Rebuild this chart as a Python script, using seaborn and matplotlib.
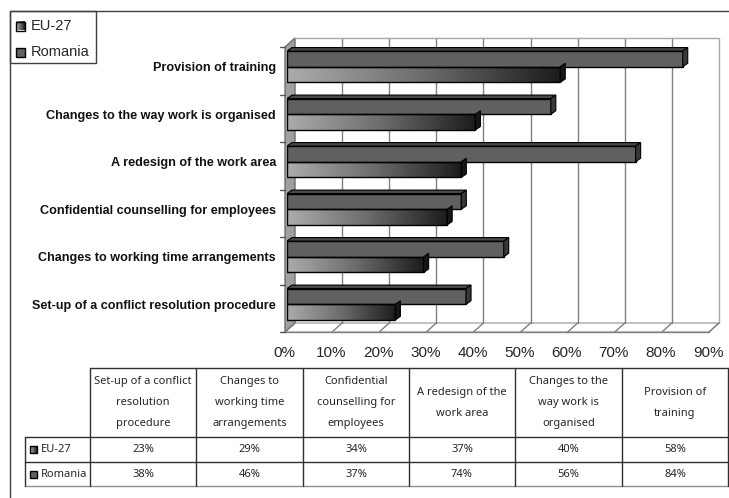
import numpy as np
import pandas as pd
import matplotlib
matplotlib.use("Agg")
import matplotlib.pyplot as plt
import matplotlib.transforms as mtransforms
from matplotlib.patches import Polygon, Rectangle
from matplotlib.colors import LinearSegmentedColormap
import seaborn as sns

# ---- data -------------------------------------------------------------
measures = [
    "Provision of training",
    "Changes to the way work is organised",
    "A redesign of the work area",
    "Confidential counselling for employees",
    "Changes to working time arrangements",
    "Set-up of a conflict resolution procedure",
]
eu27 = [58, 40, 37, 34, 29, 23]
romania = [84, 56, 74, 37, 46, 38]
series = ["EU-27", "Romania"]
x_ticks = [0, 10, 20, 30, 40, 50, 60, 70, 80, 90]
table_headers = [
    ["Set-up of a conflict", "resolution", "procedure"],
    ["Changes to", "working time", "arrangements"],
    ["Confidential", "counselling for", "employees"],
    ["A redesign of the", "work area"],
    ["Changes to the", "way work is", "organised"],
    ["Provision of", "training"],
]

df = pd.DataFrame({
    "measure": measures * 2,
    "series": ["EU-27"] * len(measures) + ["Romania"] * len(measures),
    "share": eu27 + romania,
})

# ---- style ------------------------------------------------------------
sns.set_style("white")
plt.rcParams["font.family"] = ["Liberation Sans", "DejaVu Sans"]

W, H = 729, 498
fig = plt.figure(figsize=(W / 100, H / 100), dpi=100)

# background layer in pixel units (y grows downward)
bg = fig.add_axes([0, 0, 1, 1], zorder=0)
bg.set_xlim(0, W)
bg.set_ylim(H, 0)
bg.axis("off")

# bar plane axes
ax = fig.add_axes([287 / W, (H - 328) / H, 424 / W, 285 / H], zorder=1)

RO_COLOR = "#606060"
eu_cmap = LinearSegmentedColormap.from_list("eu", ["#acacac", "#6c6c6c", "#1c1c1c"])

sns.barplot(
    data=df, x="share", y="measure", hue="series",
    order=measures, hue_order=["Romania", "EU-27"], orient="h",
    palette={"Romania": RO_COLOR, "EU-27": "#808080"}, saturation=1,
    width=0.66, edgecolor="black", linewidth=1.0, legend=False, ax=ax,
)

# ---- 3D chart frame ----------------------------------------------------
scale = 424 / 90.0
def fx(v):
    return 285 + v * scale

DX, DY = 10, 9
FY = 332
WALL_TOP = 47

# back wall grid
for v in x_ticks[1:-1]:
    bg.plot([fx(v) + DX, fx(v) + DX], [WALL_TOP - DY, FY - DY], color="#808080", lw=1)
bg.plot([fx(0) + DX, fx(90) + DX, fx(90) + DX], [WALL_TOP - DY, WALL_TOP - DY, FY - DY],
        color="#a8a8a8", lw=1)
# floor
bg.add_patch(Polygon([(fx(0), FY), (fx(90), FY), (fx(90) + DX, FY - DY), (fx(0) + DX, FY - DY)],
                     closed=True, fc="white", ec="#a8a8a8", lw=1))
for v in x_ticks:
    bg.plot([fx(v), fx(v) + DX], [FY, FY - DY], color="#808080", lw=1)
bg.plot([fx(0), fx(90)], [FY, FY], color="#808080", lw=1)
# left wall
bg.add_patch(Polygon([(fx(0), WALL_TOP), (fx(0) + DX, WALL_TOP - DY), (fx(0) + DX, FY - DY), (fx(0), FY)],
                     closed=True, fc="#a0a0a0", ec="#6e6e6e", lw=1))
for k in range(len(measures) + 1):
    y = WALL_TOP + k * (FY - WALL_TOP) / len(measures)
    bg.plot([280, fx(0)], [y, y], color="#555555", lw=1)

# ---- bars: gradient fill and depth faces -----------------------------
ax.set_xlim(0, 90)
ax.set_ylim(len(measures) - 0.5, -0.5)
ddx = 5 * 90 / 424.0
ddy = 3.5 * len(measures) / 285.0

ro_bars, eu_bars = ax.containers[0], ax.containers[1]
for p in eu_bars.patches:
    x0, y0, w, h = p.get_x(), p.get_y(), p.get_width(), p.get_height()
    grad = np.linspace(0, 1, 256).reshape(1, -1)
    ax.imshow(grad, extent=(x0, x0 + w, y0 + h, y0), aspect="auto", cmap=eu_cmap,
              zorder=2, interpolation="bilinear")
    p.set_facecolor("none")
    p.set_zorder(3)
    ax.add_patch(Polygon([(x0 + w, y0), (x0 + w + ddx, y0 - ddy), (x0 + w + ddx, y0 + h - ddy), (x0 + w, y0 + h)],
                         closed=True, fc="#161616", ec="black", lw=0.8, zorder=3))
for p in ro_bars.patches:
    x0, y0, w, h = p.get_x(), p.get_y(), p.get_width(), p.get_height()
    p.set_zorder(3)
    ax.add_patch(Polygon([(x0, y0), (x0 + ddx, y0 - ddy), (x0 + w + ddx, y0 - ddy), (x0 + w, y0)],
                         closed=True, fc="#484848", ec="black", lw=0.8, zorder=3))
    ax.add_patch(Polygon([(x0 + w, y0), (x0 + w + ddx, y0 - ddy), (x0 + w + ddx, y0 + h - ddy), (x0 + w, y0 + h)],
                         closed=True, fc="#383838", ec="black", lw=0.8, zorder=3))

ax.set_xlim(0, 90)
ax.set_ylim(len(measures) - 0.5, -0.5)
ax.set_facecolor("none")
for s in ax.spines.values():
    s.set_visible(False)
ax.set_xlabel("")
ax.set_ylabel("")
ax.set_xticks(x_ticks)
ax.set_xticklabels([f"{v}%" for v in x_ticks], fontsize=11, family=["Liberation Sans"])
ax.set_yticks(range(len(measures)))
ax.set_yticklabels(measures, fontsize=9.1, fontweight="bold", family=["Liberation Sans", "DejaVu Sans"],
                   color="#111111")
ax.tick_params(axis="x", length=0, pad=13)
ax.tick_params(axis="y", length=0, pad=8)
shift = mtransforms.ScaledTranslation(-3 / 100, 0, fig.dpi_scale_trans)
for lbl in ax.get_xticklabels():
    lbl.set_transform(lbl.get_transform() + shift)

# ---- outer frame -------------------------------------------------------
bg.plot([10, W], [11, 11], color="#404040", lw=1)
bg.plot([10, 10], [11, H], color="#404040", lw=1)

# ---- legend --------------------------------------------------------------
bg.add_patch(Rectangle((10, 11), 86, 52, fc="white", ec="#404040", lw=1))
grad = np.linspace(0, 1, 64).reshape(1, -1)
bg.imshow(grad, extent=(16, 25, 30.5, 21.5), aspect="auto", cmap=eu_cmap, zorder=2)
bg.add_patch(Rectangle((16, 21.5), 9, 9, fc="none", ec="black", lw=1, zorder=3))
bg.add_patch(Rectangle((16, 47.5), 9, 9, fc=RO_COLOR, ec="black", lw=1, zorder=3))
bg.text(31, 26, series[0], fontsize=10.5, va="center", ha="left")
bg.text(31, 52, series[1], fontsize=10.5, va="center", ha="left")

# ---- data table ---------------------------------------------------------
tfont = ["Noto Sans", "DejaVu Sans"]
tsize = 8.0
col_edges = [90, 196, 303, 409, 515, 622, 728]
top, hdr_bot, r1_bot, r2_bot = 368, 437, 462, 486
lc = "#303030"
bg.plot([col_edges[0], col_edges[-1]], [top, top], color=lc, lw=1)
for y in (hdr_bot, r1_bot):
    bg.plot([25, col_edges[-1]], [y, y], color=lc, lw=1)
bg.plot([25, W], [r2_bot, r2_bot], color="#909090", lw=1)
bg.plot([25, 25], [hdr_bot, r2_bot], color=lc, lw=1)
for x in col_edges:
    bg.plot([x, x], [top, r2_bot], color=lc, lw=1)

eu_vals = eu27[::-1]
ro_vals = romania[::-1]
for i, lines in enumerate(table_headers):
    cx = (col_edges[i] + col_edges[i + 1]) / 2
    cy = (top + hdr_bot) / 2
    n = len(lines)
    for j, line in enumerate(lines):
        bg.text(cx, cy + (j - (n - 1) / 2) * 21, line, fontsize=tsize, family=tfont,
                ha="center", va="center")
    bg.text(cx, (hdr_bot + r1_bot) / 2, f"{eu_vals[i]}%", fontsize=tsize, family=tfont,
            ha="center", va="center")
    bg.text(cx, (r1_bot + r2_bot) / 2, f"{ro_vals[i]}%", fontsize=tsize, family=tfont,
            ha="center", va="center")

# row labels with series swatches
ey = (hdr_bot + r1_bot) / 2
ry = (r1_bot + r2_bot) / 2
bg.imshow(grad, extent=(30, 37, ey + 3.5, ey - 3.5), aspect="auto", cmap=eu_cmap, zorder=2)
bg.add_patch(Rectangle((30, ey - 3.5), 7, 7, fc="none", ec="black", lw=1, zorder=3))
bg.add_patch(Rectangle((30, ry - 3.5), 7, 7, fc=RO_COLOR, ec="black", lw=1, zorder=3))
bg.text(41, ey, series[0], fontsize=tsize, family=tfont, va="center", ha="left")
bg.text(41, ry, series[1], fontsize=tsize, family=tfont, va="center", ha="left")
bg.set_xlim(0, W)
bg.set_ylim(H, 0)

fig.savefig("out.png", dpi=100)
